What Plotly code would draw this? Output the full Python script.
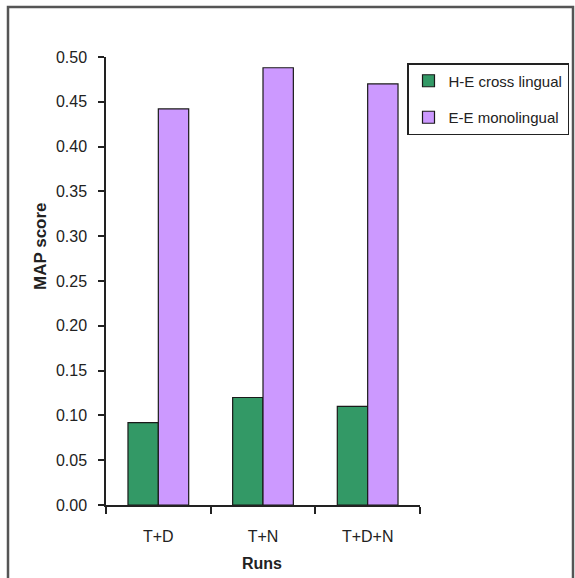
import plotly.graph_objects as go

# Mean average precision per run configuration
runs = ["T+D", "T+N", "T+D+N"]
cross_lingual = [0.092, 0.120, 0.110]
monolingual = [0.442, 0.488, 0.470]
y_ticks = [0.00, 0.05, 0.10, 0.15, 0.20, 0.25, 0.30, 0.35, 0.40, 0.45, 0.50]

FONT = "Liberation Sans, Arial, sans-serif"

fig = go.Figure()
fig.add_trace(go.Bar(
    x=runs, y=cross_lingual, name="H-E cross lingual", legendgroup="a",
    marker=dict(color="#339966", line=dict(color="#1a1a1a", width=1.2)),
))
fig.add_trace(go.Bar(
    x=runs, y=monolingual, name="E-E monolingual", legendgroup="b",
    marker=dict(color="#cc99ff", line=dict(color="#1a1a1a", width=1.2)),
))

L, R, T, B = 106, 155, 57, 73
W, H = 575, 578
pw, ph = W - L - R, H - T - B

def px(x):
    return (x - L) / pw

def py(y):
    return (H - B - y) / ph

fig.update_layout(
    width=W, height=H,
    margin=dict(l=L, r=R, t=T, b=B, autoexpand=False),
    paper_bgcolor="white", plot_bgcolor="white",
    barmode="group", bargap=0.42, bargroupgap=0,
    font=dict(family=FONT, size=16, color="#222"),
    showlegend=True,
    legend=dict(
        x=px(407), y=py(63), xanchor="left", yanchor="top",
        bgcolor="white", bordercolor="#222", borderwidth=1.5,
        font=dict(family=FONT, size=15, color="#222"),
        tracegroupgap=14, itemwidth=30,
    ),
    xaxis=dict(
        showline=True, linecolor="#222", linewidth=1.5,
        ticks="outside", ticklen=7, tickcolor="#222", tickwidth=1.5,
        tickson="boundaries", showgrid=False,
        ticklabelstandoff=16,
        tickfont=dict(family=FONT, size=16, color="#222"),
    ),
    yaxis=dict(
        range=[0, 0.5], tickvals=y_ticks, tickformat=".2f",
        showline=True, linecolor="#222", linewidth=1.5,
        ticks="outside", ticklen=6, tickcolor="#222", tickwidth=1.5,
        showgrid=False, zeroline=False, ticklabelstandoff=8,
        tickfont=dict(family=FONT, size=16, color="#222"),
    ),
    annotations=[
        dict(text="<b>MAP score</b>", textangle=-90, showarrow=False,
             xref="paper", yref="paper", x=px(40), y=py(246),
             xanchor="center", yanchor="middle",
             font=dict(family=FONT, size=17, color="#222")),
        dict(text="<b>Runs</b>", showarrow=False,
             xref="paper", yref="paper", x=px(262), y=py(563),
             xanchor="center", yanchor="middle",
             font=dict(family=FONT, size=16, color="#222")),
    ],
    shapes=[
        dict(type="rect", xref="paper", yref="paper",
             x0=px(8), x1=px(573), y0=py(585), y1=py(7),
             line=dict(color="#555", width=2.5), layer="below"),
    ],
)

fig.write_html("out.html")
